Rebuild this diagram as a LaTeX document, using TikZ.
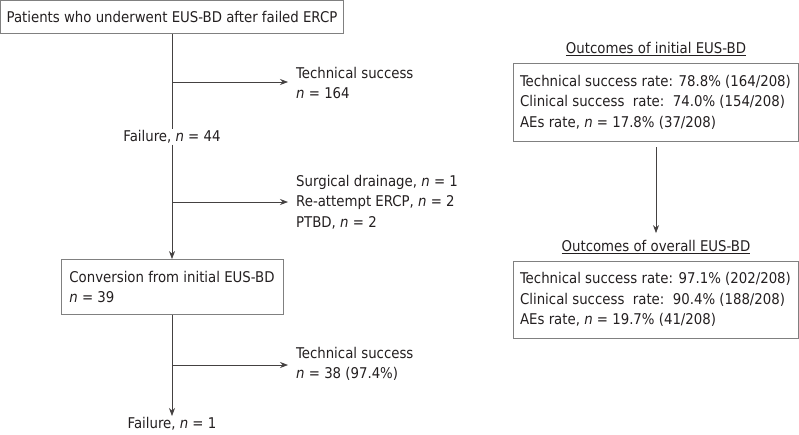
\documentclass[tikz,border=0pt]{standalone}
\usepackage{fontspec}
\setmainfont{DejaVu Sans Condensed}
\usetikzlibrary{arrows.meta}
\definecolor{ink}{HTML}{231F20}
\definecolor{frame}{HTML}{808080}
\tikzset{
  every node/.style={text=ink, font=\fontsize{14.8}{20.5}\selectfont},
  box/.style={draw=frame, line width=0.9pt, inner sep=0pt, align=left},
  lbl/.style={inner sep=0pt, align=left, anchor=west},
  conn/.style={draw=ink!85, line width=0.7pt},
  arr/.style={conn, -{Stealth[length=8pt,width=6pt]}},
}
\newcommand{\nn}{\textit{n}}
\begin{document}
\begin{tikzpicture}[x=1pt,y=-1pt]
\useasboundingbox (0,0) rectangle (799,434);
% left column
\node[box, minimum width=343pt, minimum height=33pt] (top) at (172,17) {Patients who underwent EUS-BD after failed ERCP};
\node[inner sep=1pt] (f44) at (172,137) {Failure, \nn{} = 44};
\node[box, minimum width=222pt, minimum height=55pt] (conv) at (172,287) {Conversion from initial EUS-BD\\ \nn{} = 39};
\node[inner sep=1pt, anchor=north] (f1) at (172,416) {Failure, \nn{} = 1};
\node[lbl] (ts1) at (296,83) {Technical success\\ \nn{} = 164};
\node[lbl] (alt) at (296,202) {Surgical drainage, \nn{} = 1\\ Re-attempt ERCP, \nn{} = 2\\ PTBD, \nn{} = 2};
\node[lbl] (ts2) at (296,364) {Technical success\\ \nn{} = 38 (97.4\%)};
\coordinate (b1) at (172,82);
\coordinate (b2) at (172,202);
\coordinate (b3) at (172,365);
\draw[conn] (top.south) -- (f44.north);
\draw[arr] (f44.south) -- (conv.north);
\draw[arr] (conv.south) -- (f1.north);
\draw[arr] (b1) -- ([xshift=-8pt]b1 -| ts1.west);
\draw[arr] (b2) -- ([xshift=-8pt]b2 -| alt.west);
\draw[arr] (b3) -- ([xshift=-8pt]b3 -| ts2.west);
% right column
\node[inner sep=0pt] (t1) at (656,49) {\underline{Outcomes of initial EUS-BD}};
\node[box, minimum width=285pt, minimum height=78pt] (o1) at (655.5,102) {Technical success rate: 78.8\% (164/208)\\ Clinical success\ \ rate:\ \ 74.0\% (154/208)\\ AEs rate, \nn{} = 17.8\% (37/208)};
\node[inner sep=0pt] (t2) at (656,247) {\underline{Outcomes of overall EUS-BD}};
\node[box, minimum width=285pt, minimum height=77pt] (o2) at (655.5,299.5) {Technical success rate: 97.1\% (202/208)\\ Clinical success\ \ rate:\ \ 90.4\% (188/208)\\ AEs rate, \nn{} = 19.7\% (41/208)};
\draw[arr, shorten <=6pt, shorten >=7pt] (o1.south -| t1) -- (t2.north);
\end{tikzpicture}
\end{document}
